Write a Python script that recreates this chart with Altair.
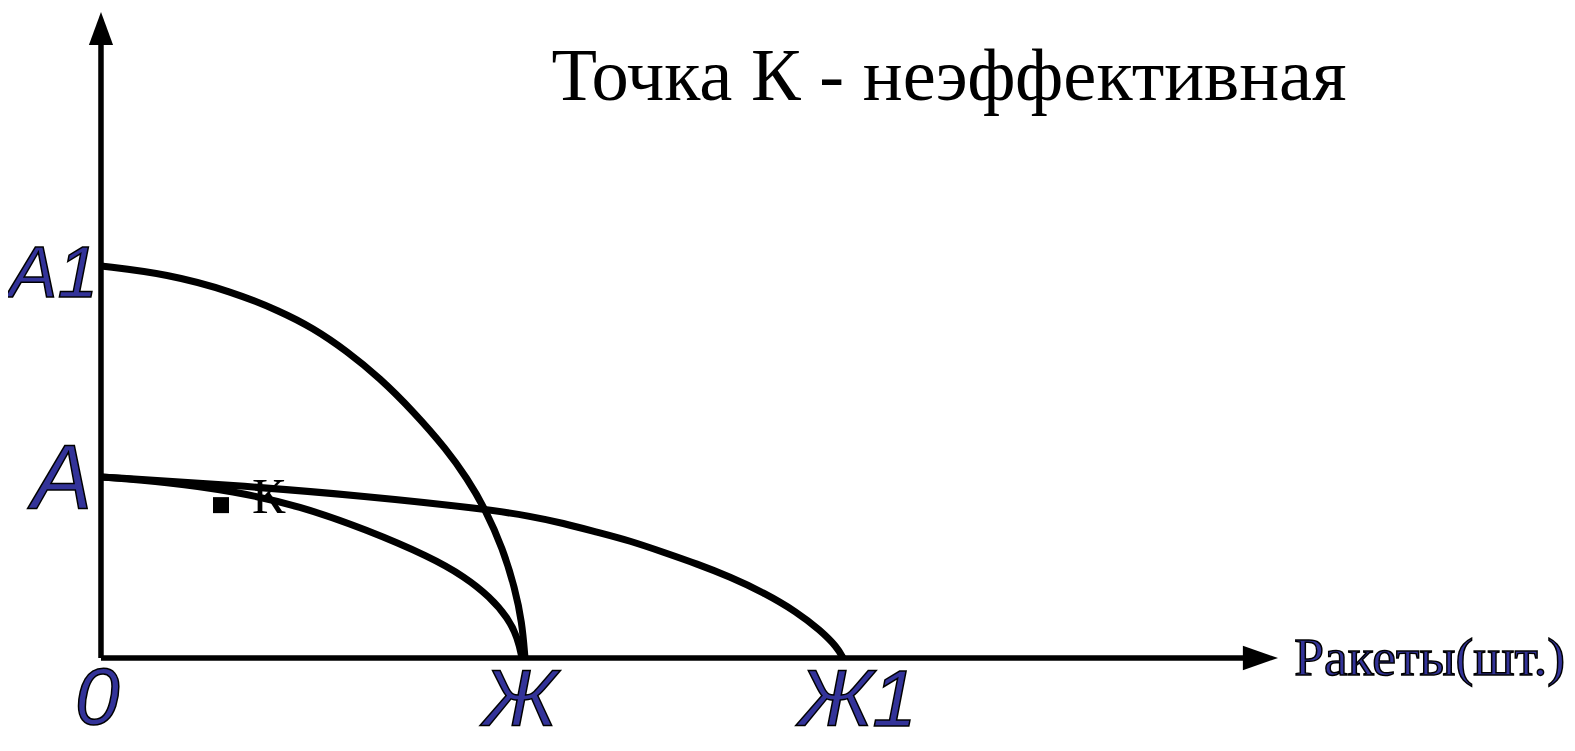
import altair as alt
import pandas as pd

# ---- data (units: x – rockets, y – other good) ----
a1_x = [0, 1.56, 3.11, 4.22, 5.00, 5.80, 6.58, 7.36, 8.16, 8.63, 9.06, 9.48, 9.76, 9.93, 10.0]
a1_y = [10.0, 9.80, 9.34, 8.85, 8.42, 7.83, 7.14, 6.30, 5.31, 4.59, 3.81, 2.78, 1.79, 0.92, 0.0]

inner_x = [0, 1.56, 3.11, 4.69, 6.27, 7.76, 8.58, 9.17, 9.60, 9.83, 9.93]
inner_y = [4.62, 4.49, 4.26, 3.88, 3.27, 2.58, 2.07, 1.56, 1.02, 0.51, 0.0]

outer_x = [0, 3.11, 6.27, 9.06, 10.12, 10.90, 11.70, 12.48, 13.26, 14.06, 14.84, 15.61, 16.42, 16.96, 17.36, 17.50]
outer_y = [4.62, 4.41, 4.13, 3.80, 3.62, 3.44, 3.21, 2.99, 2.70, 2.40, 2.07, 1.68, 1.17, 0.71, 0.28, 0.0]

point_k = {"x": 2.83, "y": 3.90}
k_label = {"x": 3.56, "y": 3.70, "t": "К"}

title_text = "Точка К - неэффективная"
title_pos = {"x": 20.0, "y": 14.23}

right_labels = ["A1", "A"]
right_x = [-0.07, -0.21]
right_y = [9.21, 3.83]
right_fs = [73, 90]

bottom_labels = ["0", "Ж", "Ж1"]
bottom_x = [-0.09, 9.88, 17.85]
bottom_y = [-1.68, -1.74, -1.74]
bottom_fs = [80, 80, 80]

axis_name = "Ракеты(шт.)"
axis_name_pos = {"x": 28.14, "y": -0.43}

x_axis_end = 26.95
y_axis_end = 15.64

BLUE = "#333399"

xs = alt.Scale(domain=[-2.193, 34.575], nice=False, zero=False)
ys = alt.Scale(domain=[-2.168, 16.582], nice=False, zero=False)

curves = pd.DataFrame(
    [{"x": x, "y": y, "c": "A1-Ж", "o": i} for i, (x, y) in enumerate(zip(a1_x, a1_y))]
    + [{"x": x, "y": y, "c": "A-Ж", "o": i} for i, (x, y) in enumerate(zip(inner_x, inner_y))]
    + [{"x": x, "y": y, "c": "A-Ж1", "o": i} for i, (x, y) in enumerate(zip(outer_x, outer_y))]
)

axes_df = pd.DataFrame([
    {"x": 0, "y": 0, "x2": x_axis_end, "y2": 0},
    {"x": 0, "y": 0, "x2": 0, "y2": y_axis_end},
])

xarrow = pd.DataFrame({"x": [26.93, 27.76], "y": [-0.31, 0.0], "y2": [0.31, 0.0]})
yarrow = pd.DataFrame({"y": [15.64, 16.48], "x": [-0.285, 0.0], "x2": [0.285, 0.0]})

X = lambda f="x": alt.X(f"{f}:Q", scale=xs, axis=None)
Y = lambda f="y": alt.Y(f"{f}:Q", scale=ys, axis=None)

lines = alt.Chart(curves).mark_line(
    interpolate="basis", color="black", strokeWidth=7
).encode(x=X(), y=Y(), detail="c:N", order="o:Q")

axes = alt.Chart(axes_df).mark_rule(color="black", strokeWidth=5.5).encode(
    x=X(), y=Y(), x2="x2:Q", y2="y2:Q"
)

xa = alt.Chart(xarrow).mark_area(color="black", orient="vertical").encode(
    x=X(), y=Y(), y2="y2:Q"
)
ya = alt.Chart(yarrow).mark_area(color="black", orient="horizontal").encode(
    y=Y(), x=X(), x2="x2:Q"
)

kpt = alt.Chart(pd.DataFrame([point_k])).mark_square(
    size=256, color="black", filled=True, opacity=1
).encode(x=X(), y=Y())

ktxt = alt.Chart(pd.DataFrame([k_label])).mark_text(
    font="Liberation Serif", fontSize=50, align="left", baseline="alphabetic", color="black"
).encode(x=X(), y=Y(), text="t:N")

title = alt.Chart(pd.DataFrame([{**title_pos, "t": title_text}])).mark_text(
    font="Liberation Serif", fontSize=74.5, align="center", baseline="alphabetic", color="black"
).encode(x=X(), y=Y(), text="t:N")

rl = alt.Chart(pd.DataFrame({"t": right_labels, "x": right_x, "y": right_y, "fs": right_fs})).mark_text(
    font="Liberation Sans", fontStyle="italic",
    align="right", baseline="alphabetic", fill=BLUE, stroke="black", strokeWidth=1.5
).encode(x=X(), y=Y(), text="t:N", size=alt.Size("fs:Q", scale=None))

bl = alt.Chart(pd.DataFrame({"t": bottom_labels, "x": bottom_x, "y": bottom_y, "fs": bottom_fs})).mark_text(
    font="Liberation Sans", fontStyle="italic",
    align="center", baseline="alphabetic", fill=BLUE, stroke="black", strokeWidth=1.5
).encode(x=X(), y=Y(), text="t:N", size=alt.Size("fs:Q", scale=None))

an = alt.Chart(pd.DataFrame([{**axis_name_pos, "t": axis_name}])).mark_text(
    font="Liberation Serif", fontSize=53.5, align="left", baseline="alphabetic",
    fill=BLUE, stroke="black", strokeWidth=1.5
).encode(x=X(), y=Y(), text="t:N")

chart = alt.layer(kpt, ktxt, lines, axes, xa, ya, title, rl, bl, an).properties(
    width=1559, height=735, autosize=alt.AutoSizeParams(type="none"), padding=0
).configure_view(stroke=None)

chart.save("out.html", embed_options={"renderer": "svg", "actions": False})
